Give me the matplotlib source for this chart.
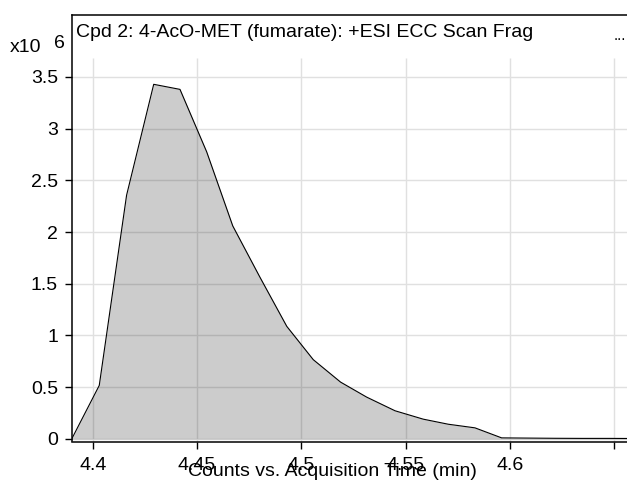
"""EIC-style trace: Cpd 2 4-AcO-MET (fumarate), +ESI ECC Scan Frag."""

import matplotlib

matplotlib.use("Agg")
import matplotlib.pyplot as plt

plt.rcParams["font.family"] = ["Liberation Sans", "DejaVu Sans"]

# acquisition time (min) and counts (x10^6)
TIME = [4.3899, 4.4031, 4.4162, 4.4292, 4.4418, 4.4546, 4.4671, 4.4800,
        4.4930, 4.5057, 4.5188, 4.5313, 4.5449, 4.5584, 4.5704, 4.5832,
        4.5960, 4.6088, 4.6216, 4.6344, 4.6472, 4.6600]
COUNTS = [0.0, 0.517, 2.356, 3.428, 3.379, 2.775, 2.059, 1.568,
          1.088, 0.766, 0.549, 0.404, 0.272, 0.191, 0.142, 0.107,
          0.010, 0.008, 0.006, 0.005, 0.005, 0.004]

X_TICKS = [4.4, 4.45, 4.5, 4.55, 4.6, 4.65]
X_LABELS = ["4.4", "4.45", "4.5", "4.55", "4.6", ""]
Y_TICKS = [0, 0.5, 1, 1.5, 2, 2.5, 3, 3.5]
Y_LABELS = ["0", "0.5", "1", "1.5", "2", "2.5", "3", "3.5"]

TITLE = "Cpd 2: 4-AcO-MET (fumarate): +ESI ECC Scan Frag"
XLABEL = "Counts vs. Acquisition Time (min)"

X_MIN, X_MAX = 4.39003, 4.65609
Y_MIN, Y_MAX = -0.025, 4.10
GRID_TOP = 3.68  # grid stops below the title strip
FS = 14


def main() -> None:
    fig = plt.figure(figsize=(6.27, 4.84), dpi=100)
    ax = fig.add_axes([72 / 627, 1 - 441.5 / 484, 1 - 72 / 627, (441.5 - 14.8) / 484])

    ax.set_xlim(X_MIN, X_MAX)
    ax.set_ylim(Y_MIN, Y_MAX)

    # grid, limited to the plotting strip below the title
    ax.vlines(X_TICKS, Y_MIN, GRID_TOP, color="#e0e0e0", lw=1.0, zorder=0)
    ax.hlines(Y_TICKS, X_MIN, X_MAX, color="#e0e0e0", lw=1.0, zorder=0)

    ax.fill_between(TIME, COUNTS, 0, color="black", alpha=0.2, lw=0, zorder=1)
    ax.plot(TIME, COUNTS, color="black", lw=0.8, zorder=2)

    ax.set_xticks(X_TICKS)
    ax.set_xticklabels(X_LABELS)
    ax.set_yticks(Y_TICKS)
    ax.set_yticklabels(Y_LABELS)
    ax.tick_params(axis="both", labelsize=FS, length=5, width=1.0, color="black")
    ax.tick_params(axis="x", pad=6)
    ax.tick_params(axis="y", pad=5)

    for side in ("left", "top", "bottom"):
        ax.spines[side].set_linewidth(1.1)
    ax.spines["right"].set_visible(False)

    fig.text(76 / 627, 1 - 33 / 484, TITLE, fontsize=FS, ha="left", va="center")
    fig.text(620 / 627, 1 - 36 / 484, "...", fontsize=11, ha="center", va="center")

    fig.text(10 / 627, 1 - 48 / 484, "x10", fontsize=FS, ha="left", va="center")
    fig.text(54 / 627, 1 - 44 / 484, "6", fontsize=FS, ha="left", va="center")

    fig.text(332 / 627, 1 - 472 / 484, XLABEL, fontsize=FS, ha="center", va="center")

    fig.savefig("out.png", dpi=100)
    plt.close(fig)


if __name__ == "__main__":
    main()
